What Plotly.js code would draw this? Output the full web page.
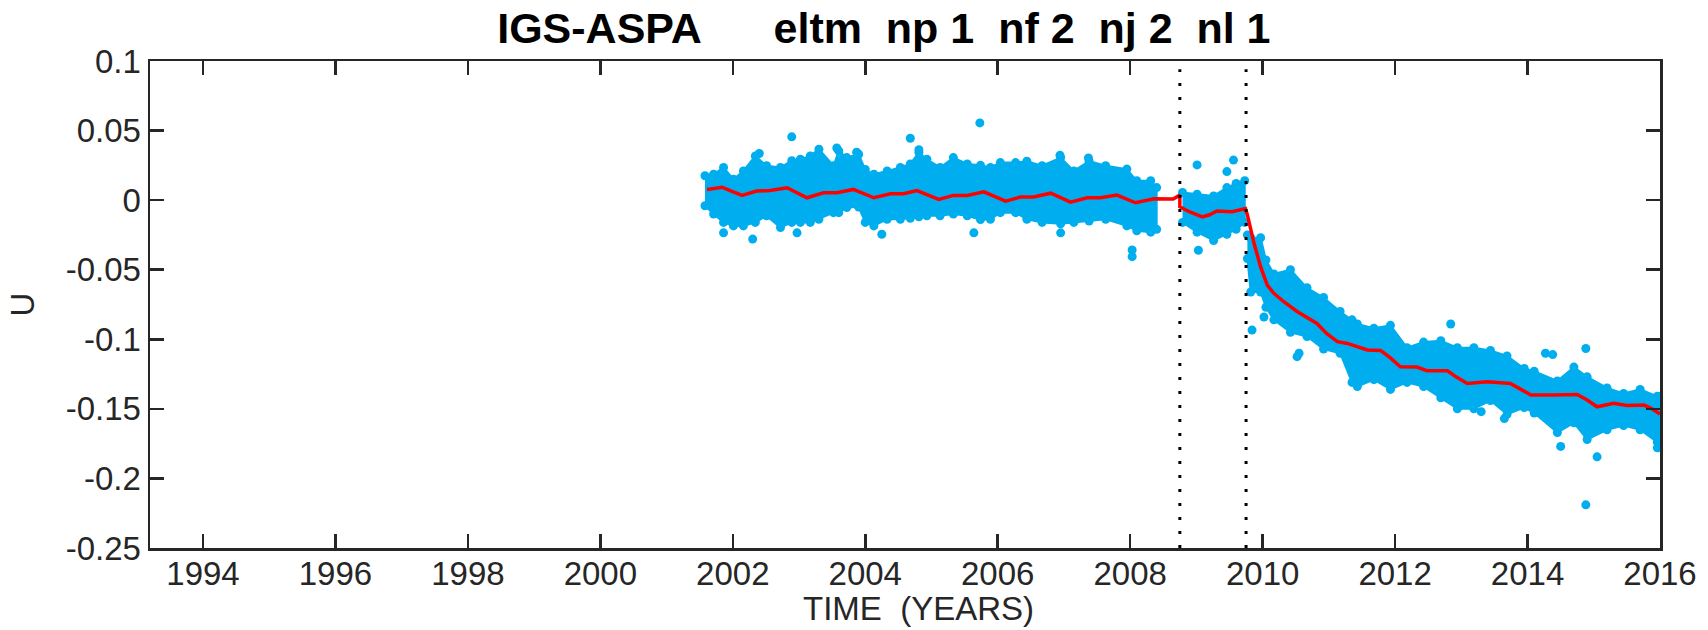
<!DOCTYPE html>
<html><head><meta charset="utf-8">
<script src="https://cdn.plot.ly/plotly-3.0.1.min.js"></script>
<style>html,body{margin:0;padding:0;background:#fff}</style>
</head><body><div id="chart" style="width:1708px;height:630px"></div>
<script>
// ---- text ----
const titleText = "IGS-ASPA\u00A0\u00A0\u00A0\u00A0\u00A0\u00A0eltm\u00A0\u00A0np 1\u00A0\u00A0nf 2\u00A0\u00A0nj 2\u00A0\u00A0nl 1";
const xTitle = "TIME\u00A0\u00A0(YEARS)";
const yTitle = "U";

// ---- ticks ----
const xTickVals = [1994, 1996, 1998, 2000, 2002, 2004, 2006, 2008, 2010, 2012, 2014, 2016];
const xTickLabels = ["1994", "1996", "1998", "2000", "2002", "2004", "2006", "2008", "2010", "2012", "2014", "2016"];
const yTickVals = [0.1, 0.05, 0, -0.05, -0.1, -0.15, -0.2, -0.25];
const yTickLabels = ["0.1", "0.05", "0", "-0.05", "-0.1", "-0.15", "-0.2", "-0.25"];

// ---- break epochs (dotted lines) ----
const breakEpochs = [2008.75, 2009.75];

// ---- observation cloud, segment 1: upper / lower edge points of the dense cloud ----
const seg1Years = [2001.58, 2001.71, 2001.86, 2002.01, 2002.16, 2002.34, 2002.51, 2002.72, 2002.89, 2003.02, 2003.17, 2003.30, 2003.52, 2003.60, 2003.72, 2003.90, 2004.00, 2004.13, 2004.33, 2004.53, 2004.68, 2004.81, 2004.93, 2005.13, 2005.33, 2005.54, 2005.74, 2005.89, 2006.04, 2006.27, 2006.44, 2006.67, 2006.95, 2007.15, 2007.38, 2007.63, 2007.95, 2008.10, 2008.31, 2008.40];
const seg1Upper = [0.0175, 0.0186, 0.0235, 0.0150, 0.0210, 0.0318, 0.0247, 0.0235, 0.0283, 0.0294, 0.0318, 0.0366, 0.0247, 0.0354, 0.0306, 0.0330, 0.0220, 0.0186, 0.0210, 0.0235, 0.0260, 0.0342, 0.0294, 0.0235, 0.0306, 0.0260, 0.0250, 0.0235, 0.0270, 0.0270, 0.0280, 0.0247, 0.0306, 0.0210, 0.0280, 0.0247, 0.0223, 0.0139, 0.0139, 0.0090];
const seg1Lower = [-0.0040, -0.0100, -0.0160, -0.0185, -0.0185, -0.0160, -0.0113, -0.0197, -0.0160, -0.0160, -0.0160, -0.0137, -0.0090, -0.0090, -0.0053, -0.0050, -0.0160, -0.0185, -0.0137, -0.0137, -0.0130, -0.0120, -0.0113, -0.0113, -0.0100, -0.0113, -0.0140, -0.0137, -0.0090, -0.0090, -0.0137, -0.0160, -0.0170, -0.0160, -0.0150, -0.0137, -0.0185, -0.0220, -0.0230, -0.0210];

// ---- segment 2 ----
const seg2Years = [2008.79, 2009.01, 2009.26, 2009.46, 2009.60, 2009.73];
const seg2Upper = [0.0055, 0.0043, 0.0030, 0.0090, 0.0120, 0.0140];
const seg2Lower = [-0.0160, -0.0230, -0.0290, -0.0245, -0.0210, -0.0160];

// ---- segment 3 ----
const seg3Years = [2009.77, 2009.82, 2009.97, 2010.05, 2010.17, 2010.42, 2010.67, 2010.92, 2011.17, 2011.35, 2011.43, 2011.68, 2011.93, 2012.18, 2012.43, 2012.69, 2012.94, 2013.19, 2013.44, 2013.69, 2013.95, 2014.10, 2014.45, 2014.70, 2014.90, 2015.20, 2015.45, 2015.70, 2015.96, 2016.00];
const seg3Upper = [-0.025, -0.027, -0.027, -0.043, -0.053, -0.050, -0.063, -0.070, -0.080, -0.086, -0.089, -0.092, -0.090, -0.106, -0.102, -0.101, -0.106, -0.106, -0.108, -0.112, -0.121, -0.123, -0.130, -0.120, -0.127, -0.135, -0.139, -0.136, -0.141, -0.141];
const seg3Lower = [-0.042, -0.066, -0.066, -0.077, -0.086, -0.095, -0.098, -0.107, -0.110, -0.131, -0.134, -0.129, -0.136, -0.131, -0.134, -0.142, -0.150, -0.150, -0.144, -0.154, -0.149, -0.153, -0.167, -0.160, -0.172, -0.165, -0.162, -0.165, -0.174, -0.174];

// ---- isolated observations ----
const outlierYears = [2002.89, 2005.73, 2004.68, 2001.86, 2002.30, 2002.97, 2004.25, 2005.64, 2006.95, 2008.03, 2008.03, 2002.40, 2003.57, 2004.81, 2006.94, 2007.37, 2003.87,
  2009.01, 2009.56, 2009.46, 2009.03,
  2009.84, 2010.02, 2010.52, 2010.55, 2012.84, 2014.27, 2014.38, 2014.88, 2014.88, 2015.05, 2014.50, 2013.30, 2013.65, 2015.96];
const outlierValues = [0.0455, 0.0555, 0.0445, -0.0235, -0.0280, -0.0235, -0.0245, -0.0235, -0.0235, -0.0358, -0.0406, 0.0335, 0.0375, 0.0362, 0.0322, 0.0303, 0.0345,
  0.0253, 0.0288, 0.0205, -0.0360,
  -0.0934, -0.0840, -0.1125, -0.1100, -0.0890, -0.1100, -0.1110, -0.1066, -0.2190, -0.1845, -0.1770, -0.1520, -0.1570, -0.1780];

// ---- model (red line) ----
const modelYears = [2001.61, 2001.84, 2001.96, 2002.14, 2002.36, 2002.56, 2002.82, 2003.12, 2003.37, 2003.57, 2003.82, 2004.13, 2004.38, 2004.58, 2004.78, 2005.11, 2005.33, 2005.54, 2005.79, 2006.12, 2006.34, 2006.54, 2006.80, 2007.10, 2007.35, 2007.55, 2007.80, 2008.08, 2008.36, 2008.50, 2008.65, 2008.75,
  2008.75, 2008.90, 2009.09, 2009.20, 2009.31, 2009.54, 2009.65, 2009.74,
  2009.77, 2009.87, 2009.97, 2010.07, 2010.17, 2010.32, 2010.52, 2010.67, 2010.82, 2010.97, 2011.13, 2011.28, 2011.58, 2011.78, 2011.92, 2012.08, 2012.33, 2012.48, 2012.79, 2012.92, 2013.09, 2013.39, 2013.74, 2013.90, 2014.05, 2014.40, 2014.75, 2014.90, 2015.05, 2015.30, 2015.50, 2015.76, 2015.88, 2016.00];
const modelValues = [0.0077, 0.0093, 0.0069, 0.0034, 0.0065, 0.0069, 0.0089, 0.0017, 0.0053, 0.0053, 0.0077, 0.0017, 0.0046, 0.0046, 0.0069, 0.0005, 0.0034, 0.0034, 0.0060, -0.0007, 0.0022, 0.0022, 0.0050, -0.0014, 0.0017, 0.0017, 0.0036, -0.0019, 0.0010, 0.0009, 0.0008, 0.0036,
  -0.0047, -0.0085, -0.0120, -0.0105, -0.0078, -0.0083, -0.0070, -0.0060,
  -0.0107, -0.0310, -0.0480, -0.0610, -0.0670, -0.0730, -0.0800, -0.0840, -0.0886, -0.0960, -0.1017, -0.1030, -0.1077, -0.1080, -0.1130, -0.1197, -0.1200, -0.1226, -0.1226, -0.1270, -0.1317, -0.1305, -0.1317, -0.1360, -0.1400, -0.1400, -0.1396, -0.1436, -0.1485, -0.1460, -0.1475, -0.1473, -0.1500, -0.1537];

// ---- styles ----
const cyan = "#00AEEF";
const axisColor = "#262626";
const fontFamily = "Liberation Sans, Arial, Helvetica, sans-serif";

function band(years, upper, lower) {
  return {
    x: years.concat(years.slice().reverse()),
    y: upper.concat(lower.slice().reverse()),
    type: "scatter", mode: "lines", fill: "toself",
    fillcolor: cyan, line: { color: cyan, width: 2 },
    hoverinfo: "skip", showlegend: false
  };
}
function edgeDots(years, upper, lower) {
  return {
    x: years.concat(years), y: upper.concat(lower),
    type: "scatter", mode: "markers",
    marker: { color: cyan, size: 9 }, hoverinfo: "skip", showlegend: false
  };
}

const traces = [
  band(seg1Years, seg1Upper, seg1Lower),
  band(seg2Years, seg2Upper, seg2Lower),
  band(seg3Years, seg3Upper, seg3Lower),
  edgeDots(seg1Years, seg1Upper, seg1Lower),
  edgeDots(seg2Years, seg2Upper, seg2Lower),
  edgeDots(seg3Years, seg3Upper, seg3Lower),
  { x: outlierYears, y: outlierValues, type: "scatter", mode: "markers",
    marker: { color: cyan, size: 9 }, showlegend: false },
  { x: modelYears, y: modelValues, type: "scatter", mode: "lines",
    line: { color: "#FF0000", width: 3.5 }, showlegend: false }
];

const shapes = breakEpochs.map(t => ({
  type: "line", xref: "x", yref: "y", x0: t, x1: t, y0: -0.25, y1: 0.094,
  line: { color: "#000000", width: 3, dash: "3px,11px" }, layer: "above"
}));

const axisCommon = {
  showline: true, linewidth: 2.5, linecolor: axisColor, mirror: "ticks",
  ticks: "inside", ticklen: 14, tickwidth: 2.5, tickcolor: axisColor,
  showgrid: false, zeroline: false,
  tickfont: { family: fontFamily, size: 33, color: axisColor }
};

const layout = {
  width: 1708, height: 630,
  margin: { l: 150, r: 48, t: 61, b: 82 },
  paper_bgcolor: "#ffffff", plot_bgcolor: "#ffffff",
  font: { family: fontFamily, color: axisColor },
  title: {
    text: titleText, xref: "paper", x: 0.486, xanchor: "center",
    yref: "container", y: 0.956, yanchor: "middle",
    font: { family: fontFamily, size: 43, color: "#000000", weight: "bold" }
  },
  xaxis: Object.assign({}, axisCommon, {
    range: [1993.2, 2016], tickvals: xTickVals, ticktext: xTickLabels,
    ticklabelstandoff: -5
  }),
  yaxis: Object.assign({}, axisCommon, {
    range: [-0.25, 0.1], tickvals: yTickVals, ticktext: yTickLabels,
    title: { text: yTitle, font: { family: fontFamily, size: 33, color: axisColor }, standoff: 21 }
  }),
  annotations: [{
    text: xTitle, xref: "paper", yref: "paper", x: 0.509, y: -0.124,
    xanchor: "center", yanchor: "middle", showarrow: false,
    font: { family: fontFamily, size: 33, color: axisColor }
  }],
  shapes: shapes,
  showlegend: false
};

Plotly.newPlot("chart", traces, layout, { staticPlot: true });
</script>
</body></html>
